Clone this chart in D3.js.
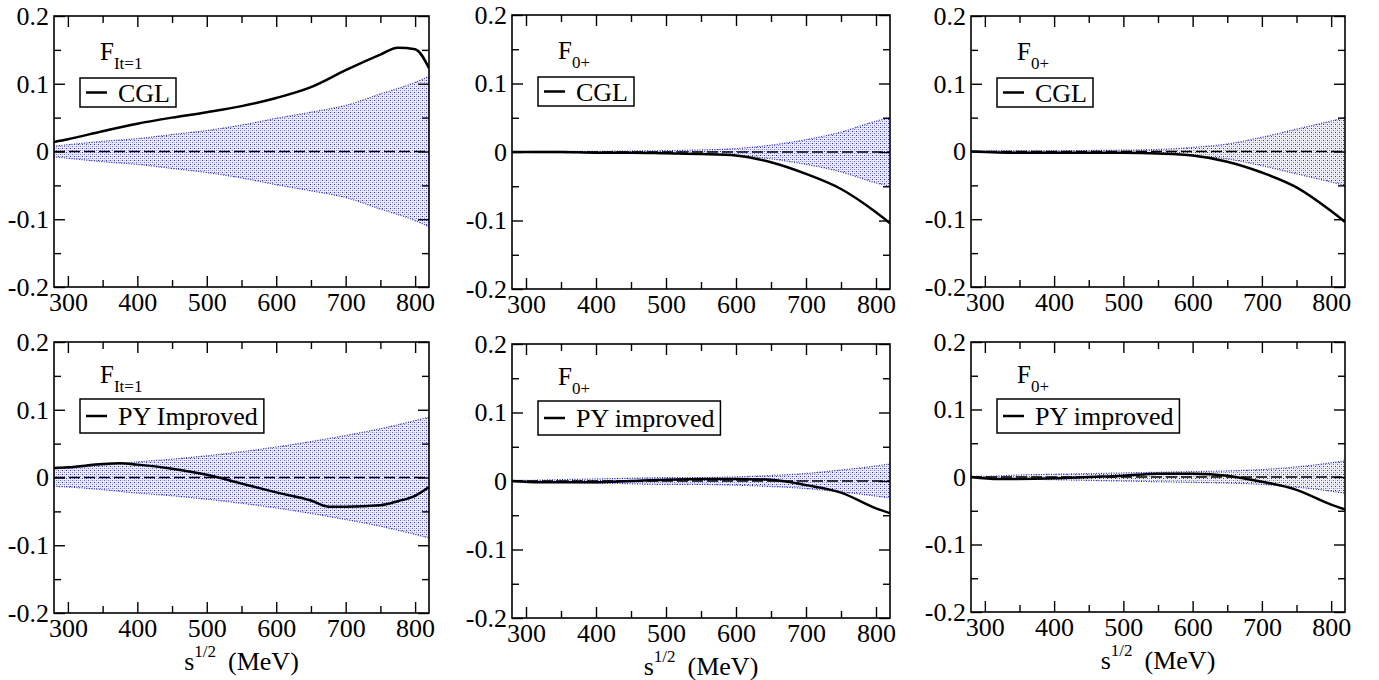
<!DOCTYPE html>
<html>
<head>
<meta charset="utf-8">
<script src="https://cdn.jsdelivr.net/npm/d3@7"></script>
<style>
  body { margin: 0; background: #fff; }
  svg text { font-family: "Liberation Serif", "Times New Roman", serif; fill: #000; }
</style>
</head>
<body>
<svg id="chart" width="1379" height="680"></svg>
<script>
// x grid for the error bands
var bandS = [280, 300, 350, 400, 450, 500, 550, 600, 650, 700, 750, 800, 820];

// band half widths (symmetric about 0)
var bandItCGL  = [0.008, 0.010, 0.015, 0.019, 0.025, 0.031, 0.039, 0.049, 0.058, 0.068, 0.085, 0.102, 0.111];
var bandF0CGLa = [0.0005, 0.0007, 0.001, 0.001, 0.0015, 0.002, 0.003, 0.005, 0.010, 0.018, 0.029, 0.045, 0.050];
var bandF0CGLb = [0.0005, 0.0007, 0.001, 0.001, 0.0015, 0.002, 0.003, 0.006, 0.011, 0.021, 0.033, 0.045, 0.050];
var bandItPY   = [0.013, 0.014, 0.018, 0.023, 0.027, 0.032, 0.038, 0.045, 0.053, 0.062, 0.072, 0.084, 0.089];
var bandF0PYa  = [0.001, 0.001, 0.002, 0.003, 0.004, 0.005, 0.005, 0.006, 0.008, 0.011, 0.016, 0.022, 0.025];
var bandF0PYb  = [0.001, 0.001, 0.003, 0.004, 0.005, 0.006, 0.007, 0.008, 0.009, 0.011, 0.015, 0.021, 0.024];

// curves
var cglItS = [280, 300, 350, 400, 450, 500, 550, 600, 650, 700, 750, 775, 800, 820];
var cglItF = [0.014, 0.018, 0.030, 0.041, 0.050, 0.058, 0.067, 0.079, 0.095, 0.120, 0.143, 0.153, 0.151, 0.123];

var cglF0S  = [280, 350, 400, 450, 500, 550, 600, 650, 700, 750, 800, 820];
var cglF0Fa = [0, 0, -0.001, -0.001, -0.002, -0.003, -0.005, -0.015, -0.032, -0.054, -0.088, -0.104];
var cglF0Fb = [0, -0.002, -0.002, -0.002, -0.002, -0.003, -0.006, -0.015, -0.031, -0.053, -0.088, -0.104];

var pyItS = [280, 300, 350, 375, 400, 450, 500, 550, 600, 650, 675, 700, 750, 775, 800, 820];
var pyItF = [0.014, 0.015, 0.020, 0.021, 0.019, 0.013, 0.004, -0.009, -0.022, -0.034, -0.043, -0.043, -0.041, -0.035, -0.027, -0.014];

var pyF0S  = [280, 320, 400, 450, 500, 550, 600, 650, 700, 750, 800, 820];
var pyF0Fa = [0, -0.002, -0.002, 0, 0.002, 0.003, 0.003, 0.002, -0.006, -0.017, -0.040, -0.047];
var pyF0Fb = [0, -0.003, -0.002, 0, 0.002, 0.005, 0.005, 0.002, -0.007, -0.019, -0.041, -0.048];

// ticks
var xMajor = [300, 400, 500, 600, 700, 800];
var xMinor = [350, 450, 550, 650, 750];
var yMajor = [-0.2, -0.1, 0, 0.1, 0.2];
var yMinor = [-0.15, -0.05, 0.05, 0.15];
var yTickLabels = ["-0.2", "-0.1", "0", "0.1", "0.2"];

var serif = '"Liberation Serif", "Times New Roman", serif';
var svg = d3.select("#chart");

// dotted fill for the bands
var defs = svg.append("defs");
var pat = defs.append("pattern")
    .attr("id", "dots")
    .attr("patternUnits", "userSpaceOnUse")
    .attr("width", 4).attr("height", 4);
pat.append("rect").attr("width", 4).attr("height", 4).attr("fill", "#eeeef8");
pat.append("rect").attr("x", 0).attr("y", 0).attr("width", 1).attr("height", 1).attr("fill", "#3030b0");
pat.append("rect").attr("x", 2).attr("y", 2).attr("width", 1).attr("height", 1).attr("fill", "#7070d0");
pat.append("rect").attr("x", 2).attr("y", 0).attr("width", 1).attr("height", 1).attr("fill", "#b8b8e6");
pat.append("rect").attr("x", 0).attr("y", 2).attr("width", 1).attr("height", 1).attr("fill", "#b8b8e6");

var panels = [
  {l: 54,  t: 16,  r: 429,  b: 287, sub: "It=1", leg: "CGL",         band: bandItCGL,  cs: cglItS, cf: cglItF,  row: 0},
  {l: 512, t: 15,  r: 890,  b: 289, sub: "0+",   leg: "CGL",         band: bandF0CGLa, cs: cglF0S, cf: cglF0Fa, row: 0},
  {l: 971, t: 16,  r: 1345, b: 287, sub: "0+",   leg: "CGL",         band: bandF0CGLb, cs: cglF0S, cf: cglF0Fb, row: 0},
  {l: 54,  t: 342, r: 429,  b: 613, sub: "It=1", leg: "PY Improved", band: bandItPY,   cs: pyItS,  cf: pyItF,   row: 1},
  {l: 512, t: 344, r: 890,  b: 618, sub: "0+",   leg: "PY improved", band: bandF0PYa,  cs: pyF0S,  cf: pyF0Fa,  row: 1},
  {l: 971, t: 342, r: 1345, b: 612, sub: "0+",   leg: "PY improved", band: bandF0PYb,  cs: pyF0S,  cf: pyF0Fb,  row: 1}
];

panels.forEach(function(p, i) {
  var w = p.r - p.l, h = p.b - p.t;
  var g = svg.append("g").attr("transform", "translate(" + p.l + "," + p.t + ")");

  var xScale = d3.scaleLinear().domain([280, 820]).range([0, w]);
  var yScale = d3.scaleLinear().domain([-0.2, 0.2]).range([h, 0]);

  defs.append("clipPath").attr("id", "clip" + i)
      .append("rect").attr("width", w).attr("height", h);

  var plot = g.append("g").attr("clip-path", "url(#clip" + i + ")");

  // band
  var bandData = bandS.map(function(s, k) { return {s: s, e: p.band[k]}; });
  var area = d3.area()
      .curve(d3.curveMonotoneX)
      .x(function(d) { return xScale(d.s); })
      .y0(function(d) { return yScale(-d.e); })
      .y1(function(d) { return yScale(d.e); });
  plot.append("path").datum(bandData)
      .attr("d", area)
      .attr("fill", "url(#dots)");
  [1, -1].forEach(function(sign) {
    var edge = d3.line()
        .curve(d3.curveMonotoneX)
        .x(function(d) { return xScale(d.s); })
        .y(function(d) { return yScale(sign * d.e); });
    plot.append("path").datum(bandData)
        .attr("d", edge)
        .attr("fill", "none")
        .attr("stroke", "#2828b8")
        .attr("stroke-width", 1.2)
        .attr("stroke-dasharray", "1,1.5");
  });

  // zero line
  plot.append("line")
      .attr("x1", 0).attr("x2", w)
      .attr("y1", yScale(0)).attr("y2", yScale(0))
      .attr("stroke", "#000")
      .attr("stroke-width", 1.6)
      .attr("stroke-dasharray", "11,4");

  // curve
  var curveData = p.cs.map(function(s, k) { return {s: s, f: p.cf[k]}; });
  var line = d3.line()
      .curve(d3.curveMonotoneX)
      .x(function(d) { return xScale(d.s); })
      .y(function(d) { return yScale(d.f); });
  plot.append("path").datum(curveData)
      .attr("d", line)
      .attr("fill", "none")
      .attr("stroke", "#000")
      .attr("stroke-width", 2.5);

  // frame
  g.append("rect").attr("width", w).attr("height", h)
      .attr("fill", "none").attr("stroke", "#000").attr("stroke-width", 1.6);

  // ticks, all inside
  function styleAxis(sel) {
    sel.attr("font-family", serif).attr("font-size", 26);
    sel.select(".domain").remove();
    sel.selectAll("line").attr("stroke", "#000").attr("stroke-width", 1.4);
    sel.selectAll("text").style("font-size", "26px").style("font-family", serif);
  }
  var xb = g.append("g").attr("transform", "translate(0," + h + ")")
      .call(d3.axisBottom(xScale).tickValues(xMajor).tickSize(-11).tickPadding(6).tickFormat(d3.format("d")));
  styleAxis(xb);
  styleAxis(g.append("g").attr("transform", "translate(0," + h + ")")
      .call(d3.axisBottom(xScale).tickValues(xMinor).tickSize(-7).tickFormat("")));
  styleAxis(g.append("g").call(d3.axisTop(xScale).tickValues(xMajor).tickSize(-11).tickFormat("")));
  styleAxis(g.append("g").call(d3.axisTop(xScale).tickValues(xMinor).tickSize(-7).tickFormat("")));

  var yl = g.append("g")
      .call(d3.axisLeft(yScale).tickValues(yMajor).tickSize(-11).tickPadding(5)
        .tickFormat(function(d, k) { return yTickLabels[k]; }));
  styleAxis(yl);
  styleAxis(g.append("g").call(d3.axisLeft(yScale).tickValues(yMinor).tickSize(-7).tickFormat("")));
  styleAxis(g.append("g").attr("transform", "translate(" + w + ",0)")
      .call(d3.axisRight(yScale).tickValues(yMajor).tickSize(-11).tickFormat("")));
  styleAxis(g.append("g").attr("transform", "translate(" + w + ",0)")
      .call(d3.axisRight(yScale).tickValues(yMinor).tickSize(-7).tickFormat("")));

  // panel label F_sub
  var fy = p.row === 0 ? 44 : 41;
  var ft = g.append("text").attr("x", 46).attr("y", fy).style("font-size", "25px");
  ft.append("tspan").text("F");
  ft.append("tspan").attr("dy", 9).style("font-size", "17px").text(p.sub);

  // legend
  var by = p.row === 0 ? 62 : 57;
  var bh = p.row === 0 ? 29 : 34;
  var lg = g.append("g").attr("transform", "translate(26," + by + ")");
  var box = lg.append("rect").attr("height", bh)
      .attr("fill", "#fff").attr("stroke", "#000").attr("stroke-width", 1.5);
  lg.append("line").attr("x1", 6).attr("x2", 27)
      .attr("y1", bh / 2).attr("y2", bh / 2)
      .attr("stroke", "#000").attr("stroke-width", 2.5);
  var lt = lg.append("text").attr("x", 38).attr("y", bh / 2 + 9)
      .style("font-size", "26px").text(p.leg);
  box.attr("width", 38 + lt.node().getComputedTextLength() + 6);

  // x title on the bottom row
  if (p.row === 1) {
    var xt = g.append("text").attr("x", w / 2).attr("y", h + 57)
        .attr("text-anchor", "middle").style("font-size", "26px");
    xt.append("tspan").text("s");
    xt.append("tspan").attr("dy", -13).style("font-size", "17px").text("1/2");
    xt.append("tspan").attr("dx", 12).attr("dy", 13).text("(MeV)");
  }
});
</script>
</body>
</html>
